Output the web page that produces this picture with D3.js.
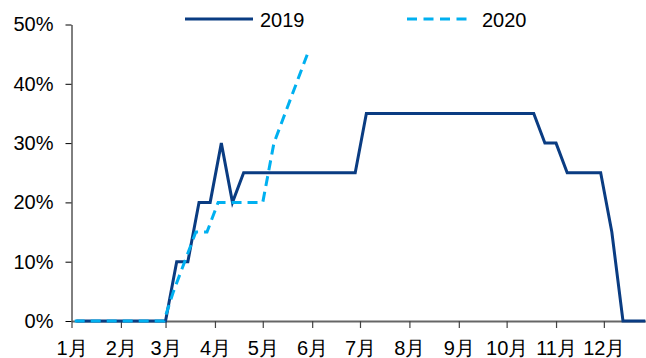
<!DOCTYPE html>
<html>
<head>
<meta charset="utf-8">
<script src="https://cdn.jsdelivr.net/npm/d3@7"></script>
<style>
  html, body { margin: 0; padding: 0; background: #fff; }
  svg { display: block; font-family: "Liberation Sans", Arial, "Noto Sans CJK SC", sans-serif; }
</style>
</head>
<body>
<svg id="chart" width="646" height="358"></svg>
<script>
// Weekly observation dates (month-day); both years share one Jan–Dec axis
const dates2019 = [
  "01-04","01-11","01-18","01-25","02-01","02-08","02-15","02-22",
  "03-01","03-08","03-15","03-22","03-29","04-05","04-12","04-19","04-26",
  "05-03","05-10","05-17","05-24","05-31","06-07","06-14","06-21","06-28",
  "07-05","07-12","07-19","07-26","08-02","08-09","08-16","08-23","08-30",
  "09-06","09-13","09-20","09-27","10-04","10-11","10-18","10-25",
  "11-01","11-08","11-15","11-22","11-29","12-06","12-13","12-20","12-27"
];
const values2019 = [
  0,0,0,0,0,0,0,0,
  0,10,10,20,20,30,20,25,25,
  25,25,25,25,25,25,25,25,25,
  35,35,35,35,35,35,35,35,35,
  35,35,35,35,35,35,35,30,
  30,25,25,25,25,15,0,0,0
];
const dates2020 = [
  "01-03","01-10","01-17","01-24","01-31","02-07","02-14","02-21","02-28",
  "03-06","03-13","03-20","03-27","04-03","04-10","04-17","04-24",
  "05-01","05-08","05-15","05-22","05-29"
];
const values2020 = [
  0,0,0,0,0,0,0,0,0,
  5,10,15,15,20,20,20,20,
  20,30,35,40,45
];
const yTicks = [0, 10, 20, 30, 40, 50];
const monthLabels = ["1月","2月","3月","4月","5月","6月","7月","8月","9月","10月","11月","12月"];
const seriesNames = ["2019", "2020"];

const navy = "#0a3c82";
const sky = "#00b0f0";

const parse = md => new Date(2019, +md.slice(0, 2) - 1, +md.slice(3, 5));

const svg = d3.select("#chart");

const x = d3.scaleTime()
  .domain([new Date(2019, 0, 1), new Date(2019, 11, 27)])
  .range([71.5, 645.3]);
const y = d3.scaleLinear().domain([0, 50]).range([321, 24.5]);

// Y axis
const yAxis = svg.append("g")
  .attr("transform", "translate(71.5,0)")
  .call(d3.axisLeft(y).tickValues(yTicks).tickFormat(d => d + "%")
    .tickSize(6).tickSizeOuter(0).tickPadding(12));
yAxis.select(".domain").attr("stroke", "#000").attr("stroke-width", 1);
yAxis.selectAll(".tick line").attr("stroke", "#000").attr("stroke-width", 1);
yAxis.selectAll("text").attr("font-size", 20).attr("fill", "#000")
  .attr("font-family", "Liberation Sans, Arial, sans-serif");

// X axis: ticks at the start of every month
const monthStarts = d3.range(12).map(m => new Date(2019, m, 1));
const xAxis = svg.append("g")
  .attr("transform", "translate(0,321)")
  .call(d3.axisBottom(x).tickValues(monthStarts)
    .tickFormat((d, i) => monthLabels[i])
    .tickSize(7).tickSizeOuter(0).tickPadding(13));
xAxis.select(".domain").attr("stroke", "#666").attr("stroke-width", 2);
xAxis.selectAll(".tick line").attr("stroke", "#444").attr("stroke-width", 1.2);
xAxis.selectAll("text").attr("font-size", 20).attr("fill", "#000");

const line = d3.line().x(d => x(d.date)).y(d => y(d.value));

const s2019 = dates2019.map((d, i) => ({ date: parse(d), value: values2019[i] }));
const s2020 = dates2020.map((d, i) => ({ date: parse(d), value: values2020[i] }));

svg.append("path").datum(s2019)
  .attr("d", line)
  .attr("fill", "none").attr("stroke", navy).attr("stroke-width", 3)
  .attr("stroke-linejoin", "miter");

svg.append("path").datum(s2020)
  .attr("d", line)
  .attr("fill", "none").attr("stroke", sky).attr("stroke-width", 3)
  .attr("stroke-dasharray", "10,6");

// Legend
const legend = svg.append("g").attr("font-size", 20).attr("fill", "#000");
const items = [
  { name: seriesNames[0], x1: 185, x2: 253, tx: 260, color: navy, dash: null },
  { name: seriesNames[1], x1: 407, x2: 467, tx: 482, color: sky, dash: "10,6.5" }
];
items.forEach(it => {
  legend.append("line")
    .attr("x1", it.x1).attr("x2", it.x2).attr("y1", 19).attr("y2", 19)
    .attr("stroke", it.color).attr("stroke-width", 3)
    .attr("stroke-dasharray", it.dash);
  legend.append("text")
    .attr("x", it.tx).attr("y", 26.5)
    .text(it.name);
});
</script>
</body>
</html>
